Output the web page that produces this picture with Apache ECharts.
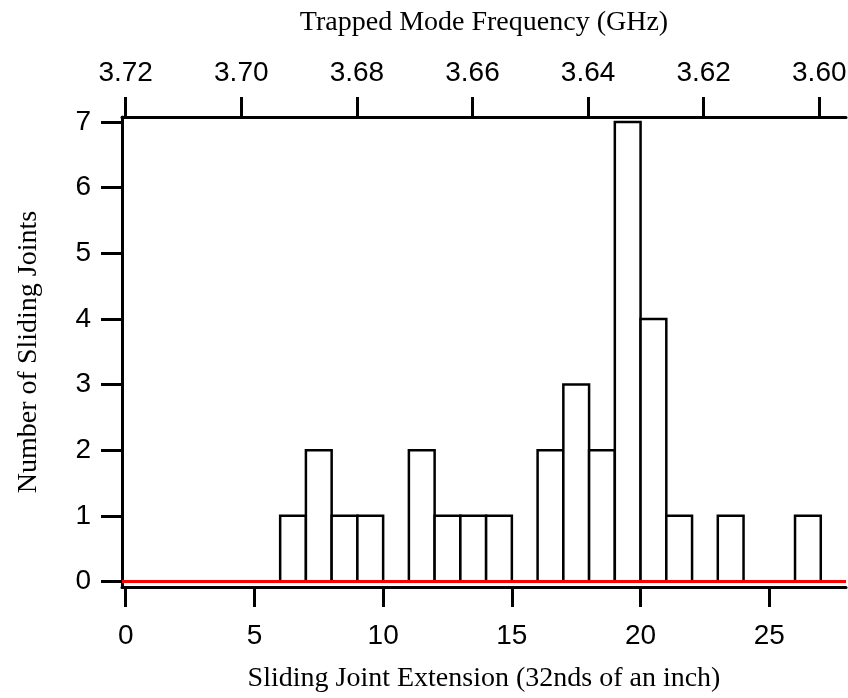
<!DOCTYPE html>
<html>
<head>
<meta charset="utf-8">
<script src="https://cdn.jsdelivr.net/npm/echarts@6/dist/echarts.min.js"></script>
<style>
  html, body { margin: 0; padding: 0; background: #fff; }
  #chart { width: 848px; height: 698px; }
</style>
</head>
<body>
<div id="chart"></div>
<script>
// Histogram bins (left edge, width 1) and counts
const binStarts = [6, 7, 8, 9, 11, 12, 13, 14, 16, 17, 18, 19, 20, 21, 23, 26];
const counts = [1, 2, 1, 1, 2, 1, 1, 1, 2, 3, 2, 7, 4, 1, 1, 1];
const binWidth = 1;

// Tick labels
const extensionTicks = [0, 5, 10, 15, 20, 25];
const countTicks = [0, 1, 2, 3, 4, 5, 6, 7];
const freqTicks = [3.72, 3.70, 3.68, 3.66, 3.64, 3.62, 3.60];

const chart = echarts.init(document.getElementById('chart'));

const tickFont = { color: '#000', fontFamily: 'Liberation Sans', fontSize: 28 };
const nameFont = { color: '#000', fontFamily: 'Liberation Serif', fontSize: 28 };
const axisLine = { show: true, onZero: false, lineStyle: { color: '#000', width: 3 } };
const axisTickStyle = { lineStyle: { color: '#000', width: 3 } };

const option = {
  animation: false,
  backgroundColor: '#fff',
  grid: { left: 122, top: 117, width: 724, height: 470, outerBoundsMode: 'none', containLabel: false },
  xAxis: [
    {
      type: 'value',
      position: 'bottom',
      min: -0.144,
      max: 27.98,
      name: 'Sliding Joint Extension (32nds of an inch)',
      nameLocation: 'middle',
      nameGap: 78,
      nameMoveOverlap: false,
      nameTextStyle: nameFont,
      axisLine: axisLine,
      axisTick: { show: true, length: 20, customValues: extensionTicks, ...axisTickStyle },
      axisLabel: { customValues: extensionTicks, margin: 35, ...tickFont },
      splitLine: { show: false },
    },
    {
      type: 'value',
      position: 'top',
      inverse: true,
      min: 3.59538,
      max: 3.72064,
      name: 'Trapped Mode Frequency (GHz)',
      nameLocation: 'middle',
      nameGap: 80,
      nameTextStyle: nameFont,
      axisLine: axisLine,
      axisTick: { show: true, length: 20, customValues: freqTicks, ...axisTickStyle },
      axisLabel: {
        customValues: freqTicks,
        margin: 30,
        formatter: (v) => v.toFixed(2),
        ...tickFont,
      },
      splitLine: { show: false },
    },
  ],
  yAxis: {
    type: 'value',
    min: -0.084,
    max: 7.076,
    name: 'Number of Sliding Joints',
    nameLocation: 'middle',
    nameGap: 79,
    nameTextStyle: nameFont,
    axisLine: axisLine,
    axisTick: { show: true, length: 21, customValues: countTicks, ...axisTickStyle },
    axisLabel: { customValues: countTicks, margin: 31, ...tickFont },
    splitLine: { show: false },
  },
  series: [
    {
      type: 'custom',
      xAxisIndex: 0,
      yAxisIndex: 0,
      data: binStarts.map((x, i) => [x, counts[i]]),
      renderItem: (params, api) => {
        const x0 = api.value(0);
        const h = api.value(1);
        const p0 = api.coord([x0, 0]);
        const p1 = api.coord([x0 + binWidth, h]);
        return {
          type: 'rect',
          shape: {
            x: p0[0],
            y: p1[1],
            width: p1[0] - p0[0],
            height: p0[1] - p1[1],
          },
          style: { fill: '#fff', stroke: '#000', lineWidth: 2.5 },
        };
      },
      markLine: {
        silent: true,
        symbol: 'none',
        label: { show: false },
        lineStyle: { color: '#ff0000', width: 3, type: 'solid' },
        data: [{ yAxis: 0 }],
      },
    },
  ],
};

chart.setOption(option);
</script>
</body>
</html>
